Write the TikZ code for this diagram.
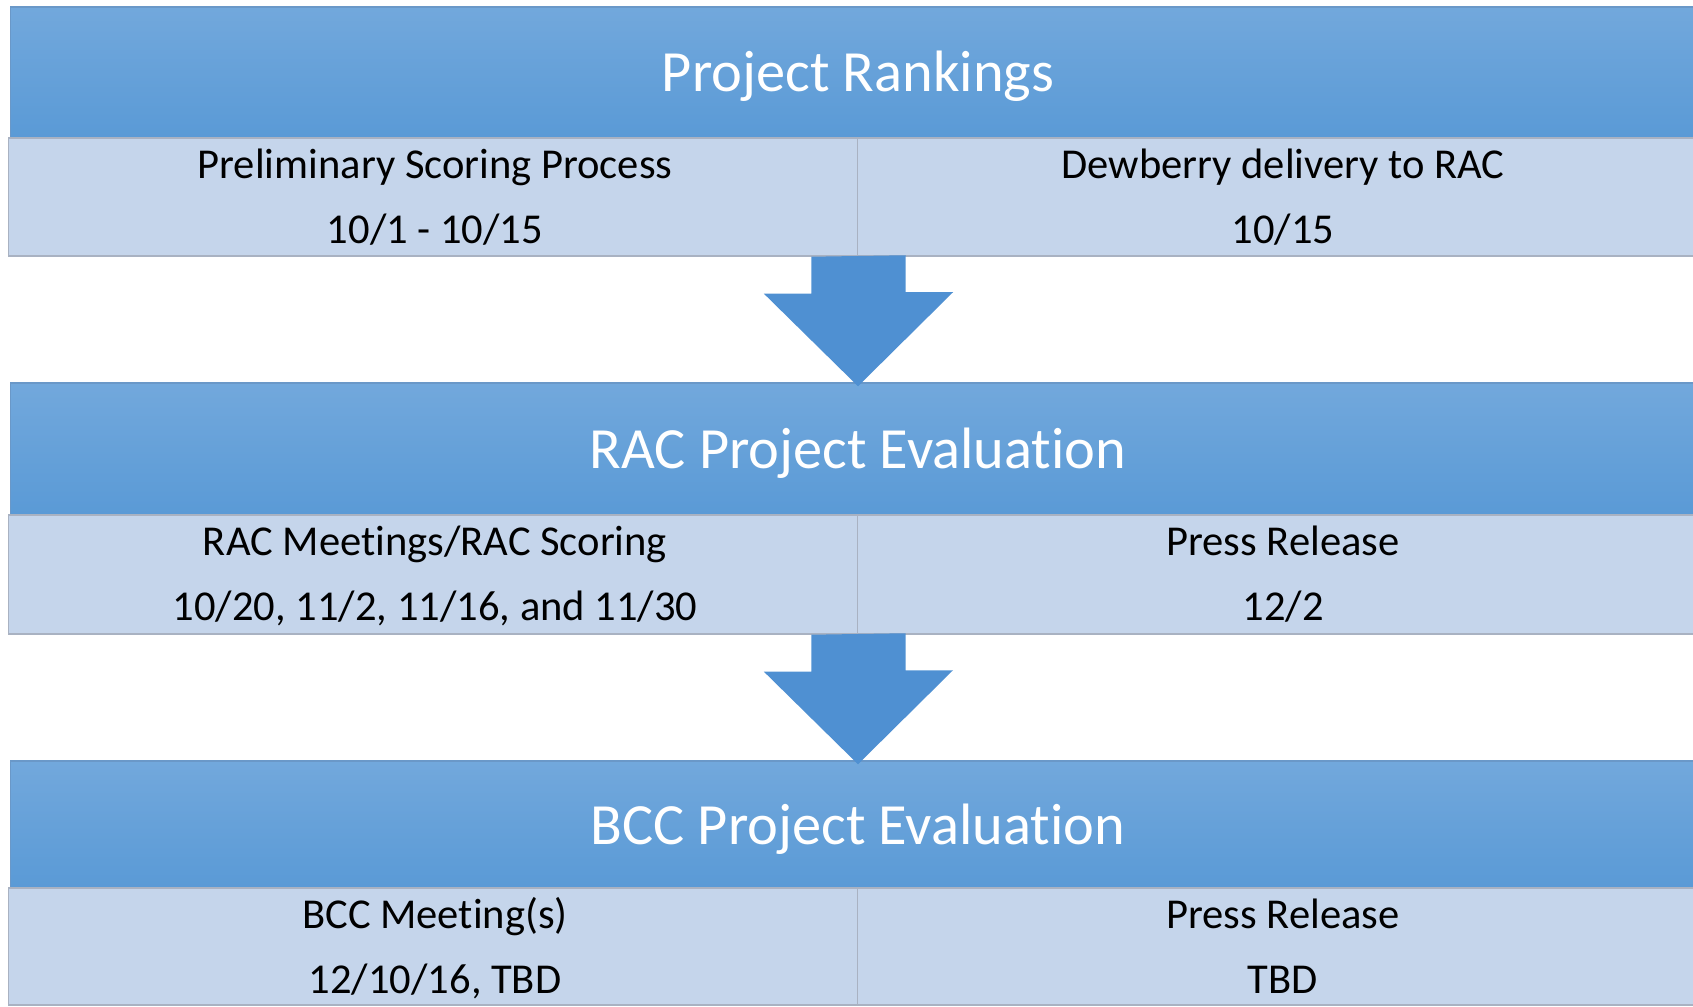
\documentclass[tikz,border=0pt]{standalone}
\usepackage{fontspec}
\setmainfont[Ligatures=CommonOff]{Carlito}
\definecolor{bandtop}{HTML}{72A8DC}
\definecolor{bandbot}{HTML}{5A9AD6}
\definecolor{bandedge}{HTML}{6A98C8}
\definecolor{cellfill}{HTML}{C5D5EB}
\definecolor{celledge}{HTML}{A9B2C2}
\definecolor{flowblue}{HTML}{4F90D2}
\tikzset{
  band/.style={rectangle, top color=bandtop, bottom color=bandbot, draw=bandedge,
    minimum width=16.94cm, inner sep=0pt, text=white, text height=0.45cm, text depth=0.06cm,
    font=\fontsize{16.6}{20}\selectfont},
  cell/.style={rectangle, fill=cellfill, draw=celledge, inner sep=0pt},
  celltxt/.style={anchor=base, inner sep=0pt, font=\fontsize{12.1}{14}\selectfont},
  flow/.style={fill=flowblue}
}
\begin{document}
\begin{tikzpicture}[x=0.01cm, y=-0.01cm]
\useasboundingbox (0,0) rectangle (1693,1007);
\clip (0,0) rectangle (1693,1007);
% stage 1
\node[band, minimum height=1.31cm] (rank) at (858,72.5){Project Rankings};
\node[cell, minimum width=8.49cm, minimum height=1.18cm] (prelim) at (433.5,197){};
\node[cell, minimum width=8.50cm, minimum height=1.18cm] (deliv) at (1283,197){};
\node[celltxt] (prelimA) at (435,179){Preliminary Scoring Process};
\node[celltxt] (prelimB) at (435,244){10/1 - 10/15};
\node[celltxt] (delivA) at (1283,179){Dewberry delivery to RAC};
\node[celltxt] (delivB) at (1283,244){10/15};
% stage 2
\node[band, minimum height=1.32cm] (rac) at (858,449){RAC Project Evaluation};
\node[cell, minimum width=8.49cm, minimum height=1.19cm] (racmeet) at (433.5,574.5){};
\node[cell, minimum width=8.50cm, minimum height=1.19cm] (racpress) at (1283,574.5){};
\node[celltxt] (racmeetA) at (435,556){RAC Meetings/RAC Scoring};
\node[celltxt] (racmeetB) at (435,621){10/20, 11/2, 11/16, and 11/30};
\node[celltxt] (racpressA) at (1283,556){Press Release};
\node[celltxt] (racpressB) at (1283,621){12/2};
% stage 3
\node[band, minimum height=1.27cm] (bcc) at (858,824.5){BCC Project Evaluation};
\node[cell, minimum width=8.49cm, minimum height=1.17cm] (bccmeet) at (433.5,946.5){};
\node[cell, minimum width=8.50cm, minimum height=1.17cm] (bccpress) at (1283,946.5){};
\node[celltxt] (bccmeetA) at (435,929){BCC Meeting(s)};
\node[celltxt] (bccmeetB) at (435,994){12/10/16, TBD};
\node[celltxt] (bccpressA) at (1283,929){Press Release};
\node[celltxt] (bccpressB) at (1283,994){TBD};
% arrows
\fill[flow] ([xshift=-0.475cm]prelim.south east) -- ++(0,37) -- ++(-47.5,0)
  -- ([yshift=-0.04cm]rac.north) -- ++(95,-94) -- ++(-47.5,0) -- ++(0,-37) -- cycle;
\fill[flow] ([xshift=-0.475cm]racmeet.south east) -- ++(0,37) -- ++(-47.5,0)
  -- ([yshift=-0.04cm]bcc.north) -- ++(95,-94) -- ++(-47.5,0) -- ++(0,-37) -- cycle;

\end{tikzpicture}
\end{document}
